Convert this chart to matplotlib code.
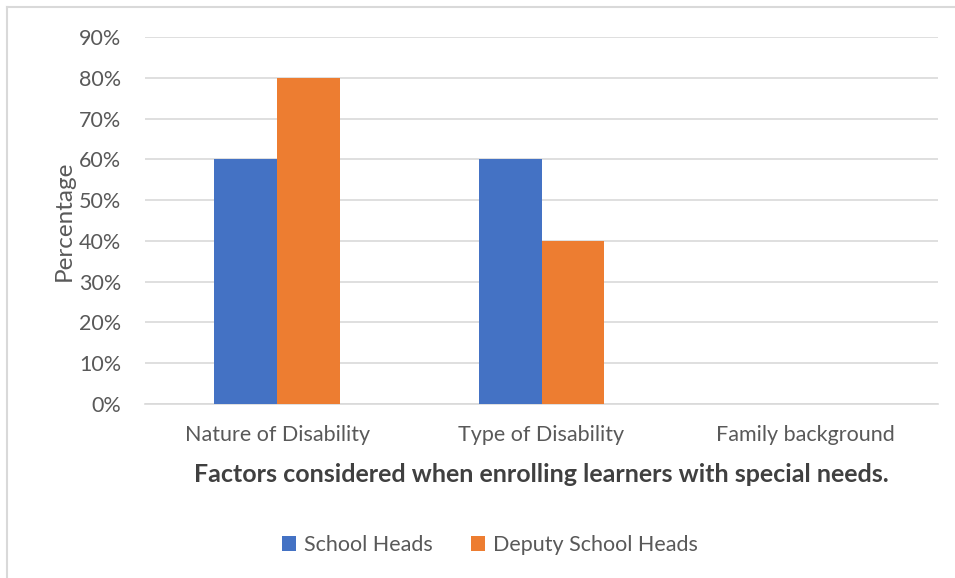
import numpy as np
import matplotlib
matplotlib.use("Agg")
import matplotlib.pyplot as plt
from matplotlib.lines import Line2D

plt.rcParams['font.family'] = ['Lato', 'DejaVu Sans']

# data
categories = ['Nature of Disability', 'Type of Disability', 'Family background']
school_heads = [0.60, 0.60, 0.0]
deputy_heads = [0.80, 0.40, 0.0]
yticks = [0.0, 0.1, 0.2, 0.3, 0.4, 0.5, 0.6, 0.7, 0.8, 0.9]

blue = '#4472C4'
orange = '#ED7D31'
text_col = '#595959'
grid_col = '#D9D9D9'

W, H = 955, 578
fig = plt.figure(figsize=(W / 100, H / 100), dpi=100)
ax = fig.add_axes([145 / W, 1 - 404 / H, (938 - 145) / W, (404 - 37) / H])

x = np.arange(len(categories))
bw = 0.238
ax.bar(x - bw / 2, school_heads, bw, color=blue, label='School Heads', zorder=3)
ax.bar(x + bw / 2, deputy_heads, bw, color=orange, label='Deputy School Heads', zorder=3)

ax.set_xlim(-0.5, 2.5)
ax.set_ylim(0, 0.9)
ax.set_yticks(yticks)
ax.set_yticklabels([f'{int(round(t * 100))}%' for t in yticks])
ax.set_xticks(x)
ax.set_xticklabels(categories)
ax.tick_params(axis='both', length=0, colors=text_col, labelsize=15.5)
ax.tick_params(axis='y', pad=17)
ax.tick_params(axis='x', pad=15)
ax.yaxis.grid(True, color=grid_col, linewidth=1.2, zorder=0)
for s in ['top', 'right', 'left']:
    ax.spines[s].set_visible(False)
ax.spines['bottom'].set_color(grid_col)
ax.spines['bottom'].set_linewidth(1.2)

ax.set_ylabel('Percentage', fontsize=17.5, color=text_col, labelpad=3)
fig.text(541 / W, 1 - 475 / H, 'Factors considered when enrolling learners with special needs.',
         ha='center', va='center', fontsize=18, fontweight='bold', color='#404040')

ax.legend(loc='center', bbox_to_anchor=(490 / W, 1 - 545 / H), bbox_transform=fig.transFigure,
          ncol=2, frameon=False, fontsize=15.5, labelcolor=text_col,
          handlelength=0.65, handleheight=0.65, handletextpad=0.35, columnspacing=1.8)

# chart border (left and top visible)
fig.add_artist(Line2D([7 / W, 7 / W], [0, 1 - 7 / H], transform=fig.transFigure, color='#D9D9D9', linewidth=1.5))
fig.add_artist(Line2D([7 / W, 1], [1 - 7 / H, 1 - 7 / H], transform=fig.transFigure, color='#D9D9D9', linewidth=1.5))

fig.savefig('out.png', dpi=100)
